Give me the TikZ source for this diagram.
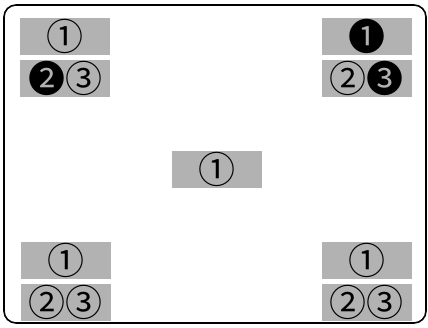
\documentclass[tikz,border=0pt]{standalone}
\usepackage{fontspec}
\usetikzlibrary{positioning}
\newfontfamily\symfont{Noto Sans CJK JP}
\tikzset{
  panel/.style={fill=black!30, inner sep=0pt, outer sep=0pt, minimum width=90pt, minimum height=37pt, font=\symfont\fontsize{37}{37}\selectfont},
  frame/.style={draw, line width=1.6pt, rounded corners=12pt}
}
\begin{document}
\begin{tikzpicture}[x=1pt, y=-1pt, node distance=5pt]
    \useasboundingbox (0,0) rectangle (428,327);
    \draw[frame] (4,5) rectangle (426,323);

    \node[panel] (tl1) at (65,36.5) {①};
    \node[panel, below=of tl1] (tl2) {❷③};

    \node[panel] (tr1) at (366.5,36.5) {❶};
    \node[panel, below=of tr1] (tr2) {②❸};

    \node[panel] (ctr) at (217,169) {①};

    \node[panel] (bl1) at (65.5,260.5) {①};
    \node[panel, below=of bl1] (bl2) {②③};

    \node[panel] (br1) at (366.5,260.5) {①};
    \node[panel, below=of br1] (br2) {②③};
\end{tikzpicture}
\end{document}
